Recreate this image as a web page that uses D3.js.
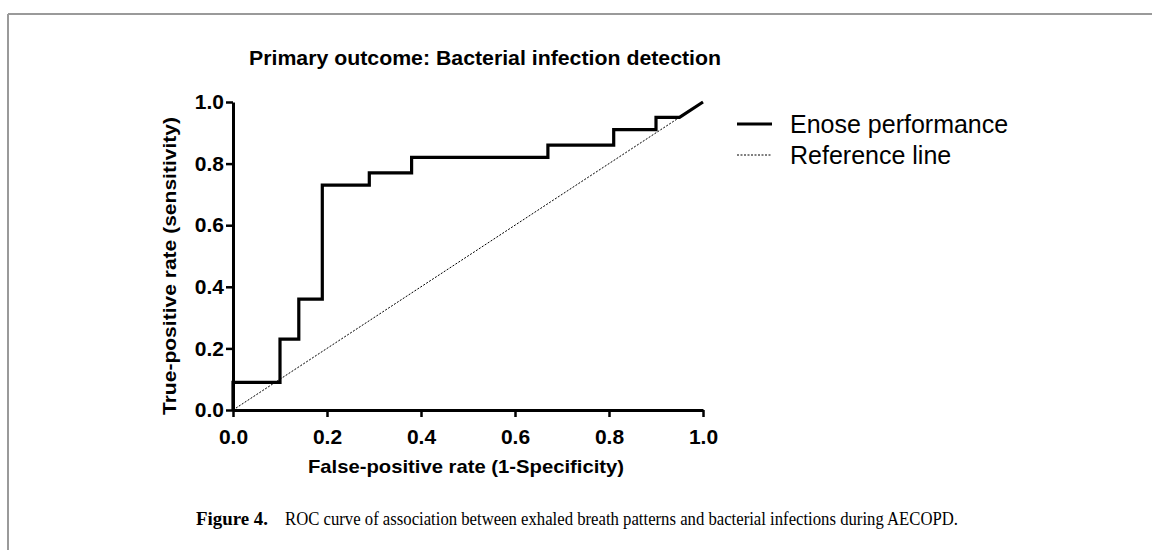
<!DOCTYPE html>
<html>
<head>
<meta charset="utf-8">
<script src="https://cdn.jsdelivr.net/npm/d3@7"></script>
<style>
  body { margin: 0; background: #fff; }
  text { font-family: "Liberation Sans", Arial, sans-serif; }
</style>
</head>
<body>
<div id="chart"></div>
<script>
// ROC step curve (false-positive rate, true-positive rate)
const fpr = [0, 0, 0.10, 0.10, 0.14, 0.14, 0.19, 0.19, 0.29, 0.29, 0.38, 0.38, 0.67, 0.67, 0.81, 0.81, 0.90, 0.90, 0.95, 1.0];
const tpr = [0, 0.09, 0.09, 0.23, 0.23, 0.36, 0.36, 0.73, 0.73, 0.77, 0.77, 0.82, 0.82, 0.86, 0.86, 0.91, 0.91, 0.95, 0.95, 1.0];
const refX = [0, 1];
const refY = [0, 1];
const tickValues = [0, 0.2, 0.4, 0.6, 0.8, 1.0];
const legendLabels = ["Enose performance", "Reference line"];

const W = 1152, H = 550;
const svg = d3.select("#chart").append("svg")
    .attr("width", W)
    .attr("height", H);

// figure frame
svg.append("line").attr("x1", 8).attr("x2", W).attr("y1", 14).attr("y2", 14)
    .attr("stroke", "#9a9a9a").attr("stroke-width", 2);
svg.append("line").attr("x1", 8).attr("x2", 8).attr("y1", 14).attr("y2", H)
    .attr("stroke", "#9a9a9a").attr("stroke-width", 2);

const x = d3.scaleLinear().domain([0, 1]).range([233, 703]);
const y = d3.scaleLinear().domain([0, 1]).range([410, 102]);

const xAxis = svg.append("g")
    .attr("transform", `translate(0,${y(0)})`)
    .call(d3.axisBottom(x).tickValues(tickValues).tickFormat(d3.format(".1f")).tickSize(7).tickSizeOuter(0));
const yAxis = svg.append("g")
    .attr("transform", `translate(${x(0)},0)`)
    .call(d3.axisLeft(y).tickValues(tickValues).tickFormat(d3.format(".1f")).tickSize(7).tickSizeOuter(0));

[xAxis, yAxis].forEach(g => {
    g.select(".domain").attr("stroke", "#000").attr("stroke-width", 3);
    g.selectAll(".tick line").attr("stroke", "#000").attr("stroke-width", 2.5);
    g.selectAll(".tick text")
        .attr("fill", "#000")
        .style("font-size", "21px")
        .style("font-weight", "bold")
        .style("font-family", "'Liberation Sans', Arial, sans-serif");
});
xAxis.selectAll(".tick text").attr("dy", "1.15em");
yAxis.selectAll(".tick text").attr("x", -9);

// reference line
const line = d3.line().x(d => x(d[0])).y(d => y(d[1]));
svg.append("path")
    .attr("d", line(d3.zip(refX, refY)))
    .attr("fill", "none")
    .attr("stroke", "#000")
    .attr("stroke-width", 1)
    .attr("stroke-dasharray", "2,1.5");

// ROC curve
svg.append("path")
    .attr("d", line(d3.zip(fpr, tpr)))
    .attr("fill", "none")
    .attr("stroke", "#000")
    .attr("stroke-width", 3.2)
    .attr("stroke-linejoin", "miter");

// title and axis labels
svg.append("text")
    .attr("x", 249).attr("y", 65)
    .attr("textLength", 472).attr("lengthAdjust", "spacingAndGlyphs")
    .style("font-size", "21px").style("font-weight", "bold")
    .text("Primary outcome: Bacterial infection detection");

svg.append("text")
    .attr("x", 308).attr("y", 473)
    .attr("textLength", 316).attr("lengthAdjust", "spacingAndGlyphs")
    .style("font-size", "19px").style("font-weight", "bold")
    .text("False-positive rate (1-Specificity)");

svg.append("text")
    .attr("transform", "translate(176,415) rotate(-90)")
    .attr("textLength", 298).attr("lengthAdjust", "spacingAndGlyphs")
    .style("font-size", "19px").style("font-weight", "bold")
    .text("True-positive rate (sensitivity)");

// legend
const legend = svg.selectAll(".legend")
    .data(legendLabels)
    .enter().append("g")
    .attr("class", "legend")
    .attr("transform", (d, i) => `translate(737,${124 + i * 31})`);
legend.append("line")
    .attr("x1", 0).attr("x2", 35).attr("y1", 0).attr("y2", 0)
    .attr("stroke", "#000")
    .attr("stroke-width", (d, i) => i === 0 ? 3.2 : 1)
    .attr("stroke-dasharray", (d, i) => i === 0 ? null : "2,1.5");
legend.append("text")
    .attr("x", 53).attr("y", 9)
    .style("font-size", "25px")
    .text(d => d);

// caption
svg.append("text")
    .attr("x", 196).attr("y", 525)
    .style("font-family", "'Liberation Serif', 'DejaVu Serif', serif")
    .style("font-size", "19px").style("font-weight", "bold")
    .attr("textLength", 72).attr("lengthAdjust", "spacingAndGlyphs")
    .text("Figure 4.");
svg.append("text")
    .attr("x", 285).attr("y", 525)
    .style("font-family", "'Liberation Serif', 'DejaVu Serif', serif")
    .style("font-size", "19px")
    .attr("textLength", 673).attr("lengthAdjust", "spacingAndGlyphs")
    .text("ROC curve of association between exhaled breath patterns and bacterial infections during AECOPD.");
</script>
</body>
</html>
